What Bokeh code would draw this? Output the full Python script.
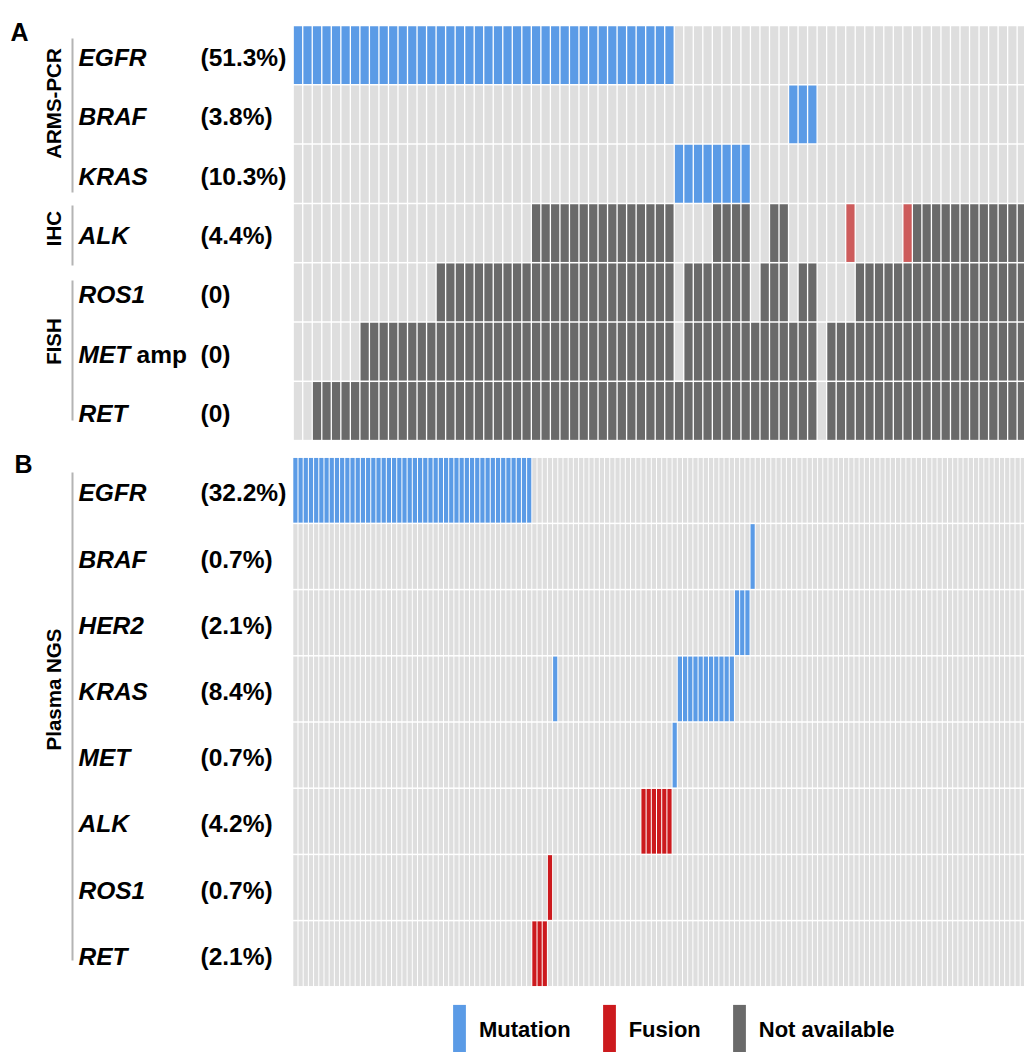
import numpy as np
from bokeh.plotting import figure
from bokeh.models import ColumnDataSource, Range1d, Legend, LegendItem
from bokeh.embed import file_html
from bokeh.resources import INLINE
from bokeh.core.properties import value

# ---------------- data ----------------
# status codes: W = tested / wild type, M = mutation, F = fusion, N = not available
A_genes = ["EGFR", "BRAF", "KRAS", "ALK", "ROS1", "MET", "RET"]
A_suffix = ["", "", "", "", "", "amp", ""]
A_pct = ["(51.3%)", "(3.8%)", "(10.3%)", "(4.4%)", "(0)", "(0)", "(0)"]
A_n_patients = 78
A_runs = [
    [("M", 40), ("W", 38)],
    [("W", 52), ("M", 3), ("W", 23)],
    [("W", 40), ("M", 8), ("W", 30)],
    [("W", 25), ("N", 15), ("W", 4), ("N", 4), ("W", 2), ("N", 2), ("W", 6),
     ("F", 1), ("W", 5), ("F", 1), ("N", 13)],
    [("W", 15), ("N", 25), ("W", 1), ("N", 7), ("W", 1), ("N", 3), ("W", 1),
     ("N", 2), ("W", 4), ("N", 19)],
    [("W", 7), ("N", 33), ("W", 1), ("N", 14), ("W", 1), ("N", 22)],
    [("W", 2), ("N", 53), ("W", 1), ("N", 22)],
]
A_groups = ["ARMS-PCR", "IHC", "FISH"]

B_genes = ["EGFR", "BRAF", "HER2", "KRAS", "MET", "ALK", "ROS1", "RET"]
B_pct = ["(32.2%)", "(0.7%)", "(2.1%)", "(8.4%)", "(0.7%)", "(4.2%)", "(0.7%)", "(2.1%)"]
B_n_patients = 143
B_runs = [
    [("M", 46), ("W", 97)],
    [("W", 88), ("M", 1), ("W", 54)],
    [("W", 85), ("M", 3), ("W", 55)],
    [("W", 50), ("M", 1), ("W", 23), ("M", 11), ("W", 58)],
    [("W", 73), ("M", 1), ("W", 69)],
    [("W", 67), ("F", 6), ("W", 70)],
    [("W", 49), ("F", 1), ("W", 93)],
    [("W", 46), ("F", 3), ("W", 94)],
]
B_groups = ["Plasma NGS"]

legend_labels = ["Mutation", "Fusion", "Not available"]
legend_panel = ["B", "B", "A"]
legend_status = ["M", "F", "N"]

# ---------------- styles / layout ----------------
COL_A = {"W": "#dedede", "M": "#5b9be6", "F": "#cd5c5c", "N": "#6a6a6a"}
COL_B = {"W": "#dedede", "M": "#5b9be6", "F": "#cc1a1e", "N": "#6a6a6a"}
FONT = "Liberation Sans"
LINE_COL = "#b4b4b4"
W, H = 1024, 1052
FULL_W = 743.0     # width of the full patient grid (cropped at the right edge)

GEOM = {  # grid left, grid top, row height (page pixels), columns
    "A": (292.7, 25.0, 59.3, A_n_patients),
    "B": (292.3, 456.7, 66.2, B_n_patients),
}


def conv(panel):
    left, top, rh, n = GEOM[panel]
    cw = FULL_W / n
    return (lambda px: (px - left) / cw - 0.5), (lambda py: (py - top) / rh - 0.5), cw, rh


ax, ay, cwA, rhA = conv("A")
bx, by, cwB, rhB = conv("B")

p = figure(width=W, height=H,
           x_range=Range1d(ax(0), ax(W)), y_range=Range1d(ay(H), ay(0)),
           x_axis_type=None, y_axis_type=None,
           output_backend="svg", toolbar_location=None, min_border=0)
p.extra_x_ranges = {"b": Range1d(bx(0), bx(W))}
p.extra_y_ranges = {"b": Range1d(by(H), by(0))}
p.outline_line_color = None
p.background_fill_color = "white"
p.border_fill_color = "white"


def expand(runs):
    out = {s: {"x": [], "y": []} for s in "WMFN"}
    for r, row in enumerate(runs):
        c = 0
        for s, n in row:
            for k in range(n):
                out[s]["x"].append(c + k)
                out[s]["y"].append(r)
            c += n
    return out


def draw_cells(runs, colors, cw, rh, gap_x, gap_y, rn):
    cells = expand(runs)
    rends = {}
    for s in "WNMF":
        src = ColumnDataSource(dict(x=cells[s]["x"], y=cells[s]["y"]))
        rends[s] = p.rect(x="x", y="y", width=1 - gap_x / cw, height=1 - gap_y / rh,
                          source=src, fill_color=colors[s], line_color=None,
                          x_range_name=rn, y_range_name=rn)
    return rends


def txt(xs, ys, texts, rn, size, style, **kw):
    p.text(x=xs, y=ys, text=texts, text_font=value(FONT), text_font_style=style,
           text_font_size=size, text_color="black", x_range_name=rn, y_range_name=rn, **kw)


def gene_labels(fx, genes, pct, rh, rn, suffix=None):
    rows = np.arange(len(genes)) + 2.5 / rh
    txt([fx(78)] * len(genes), rows, genes, rn, "24.5px", "bold italic",
        text_baseline="middle", text_align="left")
    txt([fx(200)] * len(genes), rows, pct, rn, "24.5px", "bold",
        text_baseline="middle", text_align="left")
    if suffix:
        idx = [i for i, s in enumerate(suffix) if s]
        txt([fx(136)] * len(idx), [rows[i] for i in idx], [suffix[i] for i in idx], rn,
            "24.5px", "bold", text_baseline="middle", text_align="left")


def groups(fx, fy, names, text_centers, line_spans, rn):
    txt([fx(53)] * len(names), [fy(c) for c in text_centers], names, rn, "20.5px", "bold",
        angle=np.pi / 2, text_baseline="middle", text_align="center")
    p.segment(x0=[fx(72)] * len(names), x1=[fx(72)] * len(names),
              y0=[fy(a) for a, b in line_spans], y1=[fy(b) for a, b in line_spans],
              line_color=LINE_COL, line_width=2, x_range_name=rn, y_range_name=rn)


# ---------------- panel A ----------------
rA = draw_cells(A_runs, COL_A, cwA, rhA, 1.3, 1.5, "default")
gene_labels(ax, A_genes, A_pct, rhA, "default", A_suffix)
groups(ax, ay, A_groups, [103, 228, 341], [(38, 192), (205, 265), (280, 420)], "default")
txt([ax(10)], [ay(31)], ["A"], "default", "25px", "bold",
    text_baseline="middle", text_align="left")

# ---------------- panel B ----------------
rB = draw_cells(B_runs, COL_B, cwB, rhB, 1.0, 1.5, "b")
gene_labels(bx, B_genes, B_pct, rhB, "b")
groups(bx, by, B_groups, [689], [(472, 960)], "b")
txt([bx(14)], [by(463)], ["B"], "b", "25px", "bold",
    text_baseline="middle", text_align="left")

# ---------------- legend ----------------
rends = {"A": rA, "B": rB}
legend = Legend(
    items=[LegendItem(label=lab, renderers=[rends[pn][s]])
           for lab, pn, s in zip(legend_labels, legend_panel, legend_status)],
    orientation="horizontal", location=(451, -10),
    glyph_width=16, glyph_height=64, label_standoff=12, spacing=30,
    padding=0, margin=0, label_text_font=FONT, label_text_font_style="bold",
    label_text_font_size="22px", label_text_color="black",
    background_fill_alpha=0, border_line_alpha=0,
)
p.add_layout(legend)

open("out.html", "w").write(file_html(p, INLINE))
